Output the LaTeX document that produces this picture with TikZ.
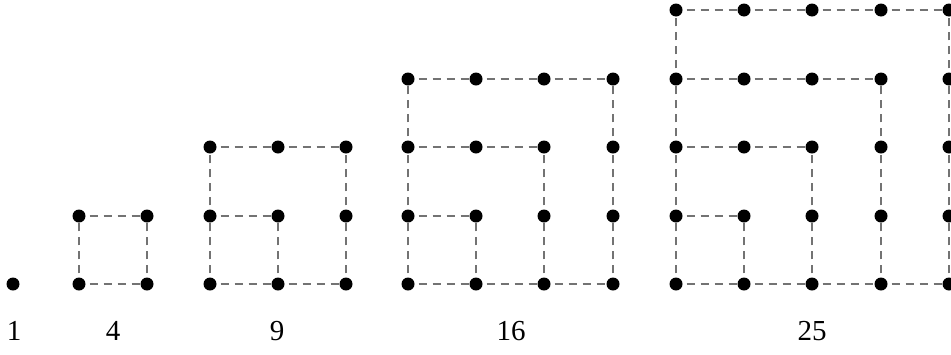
\documentclass[tikz,border=0pt]{standalone}
\usepackage{fontspec}
\setmainfont{Liberation Serif}
\begin{document}
\begin{tikzpicture}[x=1pt,y=-1pt,
  dot/.style={circle,fill=black,inner sep=0pt,minimum size=13pt},
  link/.style={draw=black!55,line width=2pt,dash pattern=on 8pt off 6pt,dash phase=10pt},
  lab/.style={font=\fontsize{29}{34}\selectfont,inner sep=0pt}]
\useasboundingbox (0,0) rectangle (951,354);
% dots
\foreach \n/\ox in {1/13,2/79,3/210,4/408,5/676} {
  \pgfmathtruncatemacro\m{\n-1}
  \foreach \i in {0,...,\m} {
    \foreach \j in {0,...,\m} {
      \pgfmathtruncatemacro\px{round(\ox+\i*68.2)}
      \pgfmathtruncatemacro\py{round(284-\j*68.5)}
      \node[dot] (g\n-\i-\j) at (\px,\py) {};
    }
  }
}
% dashed connectors
\foreach \n in {2,...,5} {
  \pgfmathtruncatemacro\m{\n-2}
  \pgfmathtruncatemacro\mm{\n-1}
  \foreach \a in {0,...,\m} {
    \foreach \b in {0,...,\mm} {
      \pgfmathtruncatemacro\ok{or(\a<\b,\b==0)}
      \pgfmathtruncatemacro\an{\a+1}
      \ifnum\ok=1
        \draw[link] (g\n-\a-\b) -- (g\n-\an-\b);
        \draw[link] (g\n-\b-\a) -- (g\n-\b-\an);
      \fi
    }
  }
}
% labels
\node[lab] (l1) at (14,331) {1};
\node[lab] (l4) at (113,331) {4};
\node[lab] (l9) at (277,331) {9};
\node[lab] (l16) at (511,331) {16};
\node[lab] (l25) at (812,331) {25};
\end{tikzpicture}
\end{document}
